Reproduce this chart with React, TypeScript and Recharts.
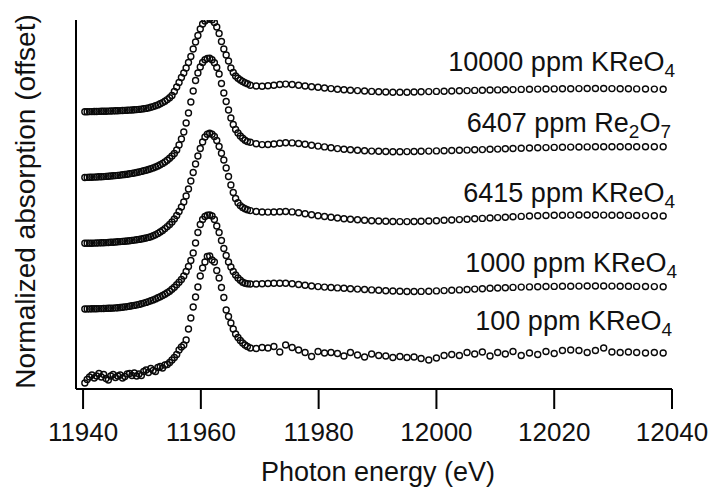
import React from 'react';
import { ScatterChart, Scatter, XAxis, YAxis, Label, Customized } from 'recharts';

// Photon energy grid (eV), shared by all scans
const energy = [
  11940.3, 11940.7, 11941.1, 11941.5, 11941.9, 11942.3, 11942.7, 11943.1, 11943.5, 11943.9,
  11944.3, 11944.7, 11945.1, 11945.5, 11945.9, 11946.3, 11946.7, 11947.1, 11947.5, 11947.9,
  11948.3, 11948.7, 11949.1, 11949.5, 11949.9, 11950.3, 11950.7, 11951.1, 11951.5, 11951.9,
  11952.3, 11952.7, 11953.1, 11953.5, 11953.9, 11954.3, 11954.7, 11955.1, 11955.5, 11955.9,
  11956.3, 11956.7, 11957.1, 11957.5, 11957.9, 11958.3, 11958.7, 11959.1, 11959.5, 11959.9,
  11960.3, 11960.7, 11961.1, 11961.5, 11961.9, 11962.3, 11962.7, 11963.1, 11963.5, 11963.9,
  11964.3, 11964.7, 11965.1, 11965.5, 11965.9, 11966.3, 11966.7, 11967.1, 11967.5, 11967.9,
  11968.4, 11969.4, 11970.4, 11971.4, 11972.4, 11973.4, 11974.4, 11975.5, 11976.6, 11977.7,
  11978.8, 11979.9, 11981.0, 11982.1, 11983.2, 11984.3, 11985.4, 11986.6, 11987.8, 11989.0,
  11990.2, 11991.4, 11992.6, 11993.8, 11995.0, 11996.2, 11997.4, 11998.7, 12000.0, 12001.3,
  12002.6, 12003.9, 12005.2, 12006.5, 12007.8, 12009.1, 12010.4, 12011.7, 12013.0, 12014.4,
  12015.8, 12017.2, 12018.6, 12020.0, 12021.4, 12022.8, 12024.2, 12025.6, 12027.0, 12028.4,
  12029.8, 12031.2, 12032.6, 12034.0, 12035.5, 12037.0, 12038.5,
];

// Normalized absorption of each sample (before offset)
const kreo4_10000 = [
  0.003, 0.003, 0.004, 0.004, 0.005, 0.005, 0.006, 0.007, 0.007, 0.008,
  0.009, 0.010, 0.011, 0.012, 0.013, 0.014, 0.015, 0.016, 0.017, 0.019,
  0.020, 0.022, 0.024, 0.026, 0.029, 0.032, 0.036, 0.041, 0.047, 0.054,
  0.062, 0.071, 0.082, 0.094, 0.108, 0.124, 0.142, 0.165, 0.205, 0.250,
  0.295, 0.345, 0.390, 0.440, 0.495, 0.555, 0.630, 0.700, 0.765, 0.830,
  0.880, 0.910, 0.927, 0.933, 0.922, 0.895, 0.850, 0.785, 0.705, 0.630,
  0.570, 0.510, 0.440, 0.395, 0.360, 0.337, 0.320, 0.305, 0.292, 0.282,
  0.267, 0.260, 0.258, 0.262, 0.268, 0.275, 0.279, 0.275, 0.267, 0.260,
  0.253, 0.247, 0.240, 0.234, 0.228, 0.223, 0.218, 0.214, 0.210, 0.206,
  0.203, 0.200, 0.198, 0.197, 0.198, 0.200, 0.202, 0.204, 0.206, 0.208,
  0.210, 0.212, 0.214, 0.216, 0.218, 0.220, 0.221, 0.223, 0.224, 0.226,
  0.227, 0.229, 0.230, 0.231, 0.232, 0.233, 0.234, 0.235, 0.235, 0.235,
  0.234, 0.233, 0.232, 0.231, 0.230, 0.229, 0.228,
];

const re2o7_6407 = [
  0.005, 0.006, 0.007, 0.008, 0.009, 0.010, 0.012, 0.013, 0.014, 0.016,
  0.018, 0.020, 0.022, 0.024, 0.026, 0.029, 0.032, 0.035, 0.038, 0.042,
  0.046, 0.050, 0.055, 0.060, 0.066, 0.072, 0.078, 0.085, 0.093, 0.101,
  0.110, 0.120, 0.132, 0.146, 0.161, 0.178, 0.198, 0.220, 0.245, 0.280,
  0.330, 0.390, 0.460, 0.550, 0.650, 0.760, 0.870, 0.975, 1.050, 1.110,
  1.155, 1.183, 1.195, 1.197, 1.182, 1.152, 1.105, 1.040, 0.945, 0.850,
  0.765, 0.680, 0.600, 0.535, 0.485, 0.450, 0.420, 0.397, 0.378, 0.364,
  0.357, 0.342, 0.334, 0.335, 0.340, 0.347, 0.352, 0.351, 0.345, 0.337,
  0.328, 0.319, 0.311, 0.302, 0.294, 0.288, 0.282, 0.277, 0.273, 0.269,
  0.267, 0.265, 0.263, 0.263, 0.264, 0.265, 0.267, 0.269, 0.271, 0.273,
  0.275, 0.277, 0.279, 0.282, 0.284, 0.287, 0.289, 0.292, 0.295, 0.298,
  0.300, 0.302, 0.304, 0.306, 0.308, 0.309, 0.310, 0.311, 0.312, 0.312,
  0.313, 0.313, 0.313, 0.313, 0.313, 0.313, 0.313,
];

const kreo4_6415 = [
  0.007, 0.007, 0.008, 0.008, 0.009, 0.010, 0.011, 0.012, 0.013, 0.014,
  0.015, 0.017, 0.018, 0.020, 0.022, 0.024, 0.026, 0.028, 0.030, 0.033,
  0.036, 0.039, 0.042, 0.046, 0.050, 0.055, 0.060, 0.066, 0.073, 0.082,
  0.093, 0.106, 0.120, 0.135, 0.154, 0.174, 0.195, 0.220, 0.250, 0.285,
  0.325, 0.370, 0.420, 0.480, 0.550, 0.630, 0.715, 0.800, 0.880, 0.955,
  1.020, 1.070, 1.097, 1.107, 1.098, 1.075, 1.035, 0.975, 0.907, 0.840,
  0.760, 0.675, 0.590, 0.515, 0.455, 0.412, 0.384, 0.365, 0.352, 0.343,
  0.334, 0.325, 0.320, 0.319, 0.320, 0.323, 0.325, 0.321, 0.312, 0.302,
  0.292, 0.283, 0.275, 0.267, 0.260, 0.253, 0.247, 0.242, 0.237, 0.233,
  0.230, 0.227, 0.225, 0.224, 0.224, 0.225, 0.227, 0.230, 0.233, 0.237,
  0.240, 0.244, 0.248, 0.252, 0.256, 0.260, 0.264, 0.268, 0.272, 0.276,
  0.280, 0.283, 0.285, 0.287, 0.288, 0.289, 0.290, 0.290, 0.290, 0.289,
  0.288, 0.287, 0.286, 0.285, 0.284, 0.282, 0.280,
];

const kreo4_1000 = [
  0.000, 0.001, 0.001, 0.002, 0.002, 0.003, 0.004, 0.004, 0.005, 0.006,
  0.007, 0.008, 0.009, 0.011, 0.013, 0.015, 0.018, 0.021, 0.024, 0.028,
  0.032, 0.036, 0.041, 0.046, 0.052, 0.059, 0.066, 0.074, 0.082, 0.091,
  0.101, 0.112, 0.123, 0.135, 0.148, 0.162, 0.178, 0.197, 0.218, 0.242,
  0.267, 0.295, 0.330, 0.375, 0.425, 0.485, 0.560, 0.660, 0.765, 0.845,
  0.895, 0.925, 0.938, 0.940, 0.930, 0.895, 0.830, 0.765, 0.685, 0.605,
  0.535, 0.470, 0.420, 0.375, 0.340, 0.310, 0.287, 0.268, 0.257, 0.252,
  0.250, 0.250, 0.252, 0.255, 0.257, 0.258, 0.257, 0.252, 0.245, 0.237,
  0.230, 0.224, 0.219, 0.215, 0.211, 0.207, 0.203, 0.199, 0.195, 0.191,
  0.187, 0.183, 0.180, 0.177, 0.175, 0.175, 0.176, 0.178, 0.181, 0.184,
  0.187, 0.191, 0.195, 0.199, 0.203, 0.207, 0.210, 0.213, 0.216, 0.219,
  0.221, 0.223, 0.225, 0.226, 0.227, 0.228, 0.229, 0.230, 0.230, 0.230,
  0.229, 0.228, 0.227, 0.226, 0.225, 0.224, 0.223,
];

const kreo4_100 = [
  -0.060, -0.025, 0.000, 0.020, -0.010, 0.010, 0.035, 0.000, 0.025, -0.015,
  -0.030, 0.010, 0.025, -0.005, 0.010, 0.020, -0.010, 0.005, 0.030, 0.035,
  0.015, 0.040, 0.010, 0.030, 0.015, 0.055, 0.070, 0.045, 0.085, 0.065,
  0.055, 0.095, 0.105, 0.090, 0.120, 0.125, 0.145, 0.170, 0.195, 0.225,
  0.270, 0.300, 0.320, 0.370, 0.480, 0.590, 0.700, 0.800, 0.900, 1.010,
  1.090, 1.150, 1.205, 1.210, 1.170, 1.150, 1.065, 0.990, 0.895, 0.795,
  0.670, 0.605, 0.540, 0.480, 0.430, 0.395, 0.365, 0.340, 0.320, 0.305,
  0.290, 0.285, 0.295, 0.290, 0.305, 0.250, 0.320, 0.295, 0.270, 0.245,
  0.205, 0.255, 0.240, 0.245, 0.235, 0.210, 0.245, 0.220, 0.200, 0.230,
  0.215, 0.210, 0.195, 0.205, 0.195, 0.200, 0.185, 0.170, 0.190, 0.215,
  0.225, 0.215, 0.245, 0.230, 0.250, 0.210, 0.245, 0.230, 0.255, 0.215,
  0.240, 0.225, 0.255, 0.235, 0.265, 0.270, 0.265, 0.245, 0.265, 0.290,
  0.250, 0.245, 0.250, 0.245, 0.240, 0.245, 0.240,
];

// Vertical offsets of the stacked spectra
const offsets = [2.77, 2.11, 1.45, 0.80, 0.12];

const xTicks = [11940, 11960, 11980, 12000, 12020, 12040];

// Sample labels: alternating [main text, subscript, main text, subscript]
const labelParts: string[][] = [
  ['10000 ppm KReO', '4'],
  ['6407 ppm Re', '2', 'O', '7'],
  ['6415 ppm KReO', '4'],
  ['1000 ppm KReO', '4'],
  ['100 ppm KReO', '4'],
];

const spectra = [kreo4_10000, re2o7_6407, kreo4_6415, kreo4_1000, kreo4_100];

// ---- layout / style ----
const FONT = '"Liberation Sans", Arial, Helvetica, sans-serif';
const W = 714;
const H = 489;
const labelAnchors = [
  { x: 675, y: 71 },
  { x: 671, y: 132 },
  { x: 675, y: 202 },
  { x: 677, y: 272 },
  { x: 672, y: 330 },
];

const seriesData = spectra.map((mu, s) =>
  energy.map((e, i) => ({ e, y: offsets[s] + mu[i] }))
);

const Ring = (props: any) => {
  if (props.cx == null || props.cy == null) return null;
  return (
    <circle cx={props.cx} cy={props.cy} r={3} fill="none" stroke="#0a0a0a" strokeWidth={1.4} />
  );
};

const SampleLabels = () => (
  <g>
    {labelParts.map((parts, i) => (
      <text
        key={i}
        x={labelAnchors[i].x}
        y={labelAnchors[i].y}
        textAnchor="end"
        fontFamily={FONT}
        fontSize={27}
        fill="#111"
      >
        {parts.map((p, j) =>
          j % 2 === 1 ? (
            <tspan key={j} dy={6} fontSize={19}>{p}</tspan>
          ) : (
            <tspan key={j} dy={j === 0 ? 0 : -6}>{p}</tspan>
          )
        )}
      </text>
    ))}
  </g>
);

const YTitle = (props: any) => {
  const vb = props.viewBox || { x: 0, y: 20, width: 76, height: 369 };
  const cx = vb.x + 35;
  const cy = vb.y + vb.height / 2 - 3;
  return (
    <text
      x={cx}
      y={cy}
      transform={`rotate(-90, ${cx}, ${cy})`}
      textAnchor="middle"
      fontFamily={FONT}
      fontSize={28}
      fill="#111"
    >
      Normalized absorption (offset)
    </text>
  );
};

export default function App() {
  return (
    <div style={{ position: 'absolute', left: 0, top: 0, width: W, height: H, background: '#fff' }}>
      <ScatterChart width={W} height={H} margin={{ top: 20, right: 42, bottom: 0, left: 0 }}>
        <XAxis
          type="number"
          dataKey="e"
          domain={[11938.8, 12040]}
          ticks={xTicks}
          allowDataOverflow
          height={100}
          tickSize={20}
          tickMargin={14}
          axisLine={{ stroke: '#000', strokeWidth: 2 }}
          tickLine={{ stroke: '#000', strokeWidth: 2 }}
          tick={{ fontSize: 26, fill: '#111', fontFamily: FONT }}
        >
          <Label
            value="Photon energy (eV)"
            position="insideBottom"
            offset={8}
            dx={4}
            style={{ fontSize: 27, fill: '#111', fontFamily: FONT }}
          />
        </XAxis>
        <YAxis
          type="number"
          dataKey="y"
          domain={[0, 3.69]}
          allowDataOverflow
          width={76}
          tick={false}
          tickLine={false}
          axisLine={{ stroke: '#000', strokeWidth: 2 }}
        >
          <Label content={YTitle} />
        </YAxis>
        {seriesData.map((d, i) => (
          <Scatter key={i} data={d} shape={Ring} isAnimationActive={false} />
        ))}
        <Customized component={SampleLabels} />
      </ScatterChart>
    </div>
  );
}
